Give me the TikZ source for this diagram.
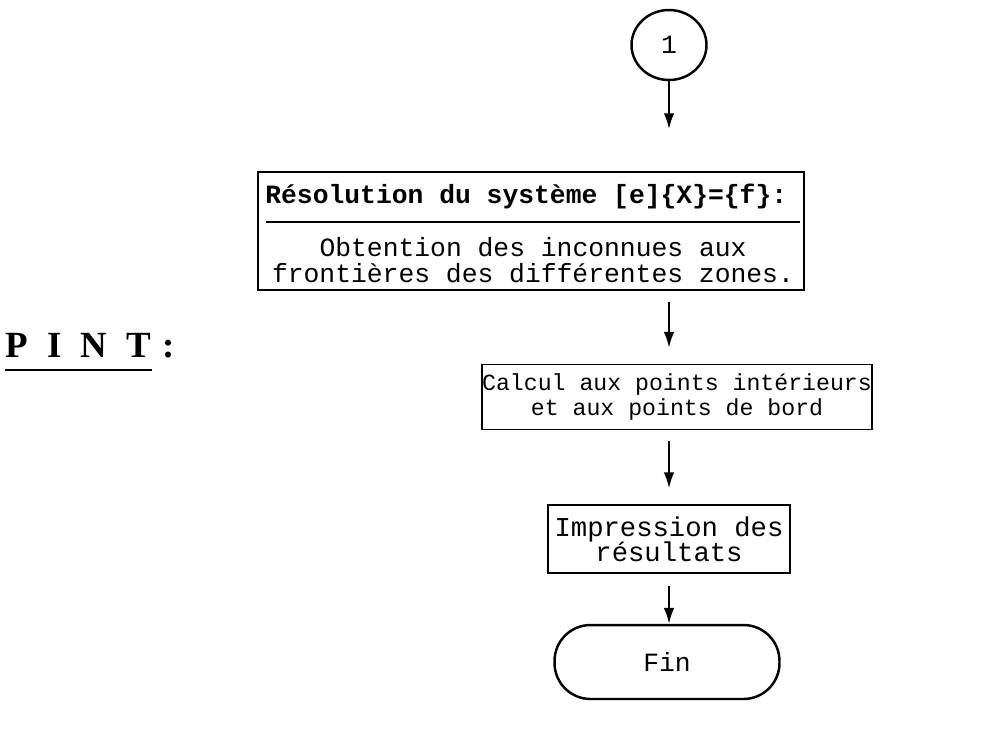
\documentclass[tikz,border=0pt]{standalone}
\usepackage{fontspec}
\setmonofont{Liberation Mono}
\setmainfont{Liberation Serif}
\usepackage{tikz}
\usetikzlibrary{
  arrows.meta,
  positioning,
  shapes.geometric,
}

\begin{document}
\begin{tikzpicture}[
  x=0.02cm, y=-0.02cm,
  >={Latex[length=9pt,width=6pt]},
  borne/.style ={draw, line width=1.4pt, ellipse, inner sep=0pt,
                 font=\fontsize{15}{13}\selectfont\ttfamily},
  fin/.style   ={draw, line width=1.4pt, rounded corners=0.72cm,
                 font=\fontsize{15}{13}\selectfont\ttfamily},
  boite/.style ={draw, line width=1.1pt, inner sep=0pt, align=center,
                 font=\fontsize{15}{15}\selectfont\ttfamily},
  titre/.style ={font=\fontsize{15}{13}\selectfont\ttfamily\bfseries,
                 inner sep=0pt, anchor=west},
  texte/.style ={font=\fontsize{15}{15}\selectfont\ttfamily,
                 inner sep=0pt, align=center},
  fleche/.style={->, line width=1.1pt},
]
  \useasboundingbox (0,0) rectangle (1006,731);

  % Chain, top to bottom, all on the same axis
  \node[borne, minimum width=1.5cm, minimum height=1.4cm] (un) at (669,45) {1};
  \node[boite, minimum width=10.94cm, minimum height=2.36cm] (res) at (531,231) {};
  \node[titre] (restit) at (265,196) {Résolution du système [e]\{X\}=\{f\}:};
  \node[texte] (resobt) at (533,260)
    {Obtention des inconnues aux\\frontières des différentes zones.};
  \draw[line width=0.9pt] (266,222) -- (800,222);

  \node[boite, minimum width=7.72cm, minimum height=1.3cm,
        font=\fontsize{13.2}{14}\selectfont\ttfamily] (calc) at (677,397)
    {Calcul aux points intérieurs\\et aux points de bord};
  \node[boite, minimum width=4.84cm, minimum height=1.36cm,
        font=\fontsize{15.5}{14.5}\selectfont\ttfamily] (impr) at (669,539)
    {Impression des\\résultats};
  \node[fin, minimum width=4.5cm, minimum height=1.48cm] (fin) at (667,662) {Fin};

  % Arrows: short, with a gap before the box they point to
  \draw[fleche, shorten >=42pt*0.569] (un) -- (un |- res.north);
  \draw[fleche, shorten <=6pt, shorten >=9pt] (res.south -| un) -- (calc.north -| un);
  \draw[fleche, shorten <=6pt, shorten >=9pt] (calc.south -| un) -- (impr.north -| un);
  \draw[fleche, shorten <=7pt] (impr.south -| un) -- (fin.north -| un);

  % Program name on the left
  \node[font=\fontsize{21}{21}\selectfont\bfseries, inner sep=0pt, anchor=west]
    (pint) at (5,345) {P\hspace{11pt}I\hspace{11pt}N\hspace{11pt}T};
  \node[font=\fontsize{21}{21}\selectfont\bfseries, inner sep=0pt, anchor=base west]
    (pintc) at ([xshift=6pt]pint.base east) {:};
  \draw[line width=1.1pt] ([yshift=-7pt]pint.south west) -- ([yshift=-7pt]pint.south east);
\end{tikzpicture}
\end{document}
